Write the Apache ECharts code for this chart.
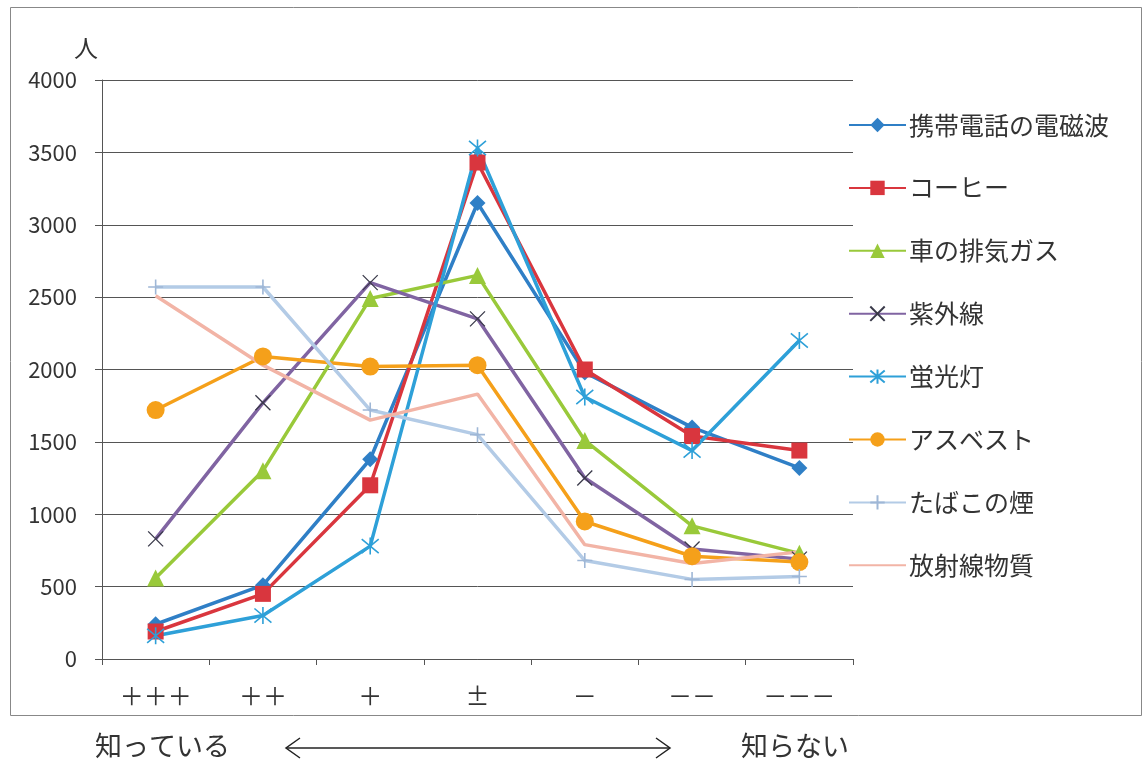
<!DOCTYPE html>
<html>
<head>
<meta charset="utf-8">
<script src="https://cdn.jsdelivr.net/npm/echarts@6/dist/echarts.min.js"></script>
<style>
  html, body { margin: 0; padding: 0; background: #ffffff; }
  #chart { width: 1143px; height: 765px; }
</style>
</head>
<body>
<div id="chart"></div>
<script>
// 認知度の段階（知っている → 知らない）
const categories = ['＋＋＋', '＋＋', '＋', '±', '－', '－－', '－－－'];

// 各項目の人数
const keitaiDenjiha = [240, 510, 1380, 3150, 1980, 1600, 1320];
const coffee        = [190, 450, 1200, 3430, 2000, 1540, 1440];
const haikiGas      = [560, 1300, 2490, 2650, 1510, 920, 730];
const shigaisen     = [830, 1770, 2600, 2350, 1250, 760, 690];
const keikoutou     = [160, 300, 780, 3530, 1810, 1440, 2200];
const asbestos      = [1720, 2090, 2020, 2030, 950, 710, 670];
const tabakoKemuri  = [2570, 2570, 1720, 1550, 680, 550, 570];
const houshasen     = [2510, 2030, 1650, 1830, 790, 660, 740];

const seriesNames = ['携帯電話の電磁波', 'コーヒー', '車の排気ガス', '紫外線', '蛍光灯', 'アスベスト', 'たばこの煙', '放射線物質'];

const FONT = '"Noto Sans CJK JP", "Noto Sans", sans-serif';

function lineSeries(name, data, color, symbol, size, extra) {
  return Object.assign({
    name: name,
    type: 'line',
    data: data,
    symbol: symbol,
    symbolSize: size,
    showAllSymbol: true,
    lineStyle: { color: color, width: 3.5 },
    itemStyle: { color: color },
    emphasis: { disabled: true },
    animation: false
  }, extra || {});
}

// 線だけで描くマーカー（×、＊、＋）
const X_PATH = 'path://M0,0L10,10M10,0L0,10';
const STAR_PATH = 'path://M0,0L10,10M10,0L0,10M5,-1L5,11';
const PLUS_PATH = 'path://M5,0L5,10M0,5L10,5';

const legendData = seriesNames.map(function (n) {
  // 放射線物質はマーカーなし
  return n === '放射線物質' ? { name: n, itemStyle: { opacity: 0 } } : { name: n };
});

const chart = echarts.init(document.getElementById('chart'), null, { renderer: 'canvas' });

chart.setOption({
  backgroundColor: '#ffffff',
  textStyle: { fontFamily: FONT },
  grid: { left: 102, right: 290, top: 80, bottom: 106, containLabel: false },
  legend: {
    orient: 'vertical',
    left: 848,
    top: 112,
    padding: 0,
    itemWidth: 57,
    itemHeight: 18,
    itemGap: 36.9,
    data: legendData,
    textStyle: { fontSize: 25, color: '#333', fontFamily: FONT, lineHeight: 26, padding: [0, 0, 0, -2] },
    selectedMode: false
  },
  xAxis: {
    type: 'category',
    data: categories,
    boundaryGap: true,
    axisLine: { lineStyle: { color: '#555', width: 1 } },
    axisTick: { show: true, length: 6, interval: 0, lineStyle: { color: '#555' } },
    axisLabel: { fontSize: 24, color: '#333', margin: 25, fontFamily: FONT, interval: 0 }
  },
  yAxis: {
    type: 'value',
    min: 0,
    max: 4000,
    interval: 500,
    name: '人',
    nameLocation: 'end',
    nameGap: 20,
    nameTextStyle: { fontSize: 24, color: '#333', align: 'right', padding: [0, 4, 0, 0], fontFamily: FONT },
    axisLine: { show: true, lineStyle: { color: '#555', width: 1 } },
    axisTick: { show: true, length: 7, lineStyle: { color: '#555' } },
    axisLabel: {
      fontSize: 22, color: '#333', margin: 25, fontFamily: FONT,
      formatter: function (v) { return String(v); }
    },
    splitLine: { lineStyle: { color: '#555', width: 1 } }
  },
  series: [
    lineSeries(seriesNames[0], keitaiDenjiha, '#2f7fc6', 'diamond', 16),
    lineSeries(seriesNames[1], coffee, '#d9363e', 'rect', 16),
    lineSeries(seriesNames[2], haikiGas, '#99c93a', 'triangle', 17),
    lineSeries(seriesNames[3], shigaisen, '#8064a2', X_PATH, 15,
      { itemStyle: { color: '#8064a2', borderColor: '#3a3a4a', borderWidth: 1.3 } }),
    lineSeries(seriesNames[4], keikoutou, '#2ea0d8', STAR_PATH, 17,
      { itemStyle: { color: '#2ea0d8', borderColor: '#2ea0d8', borderWidth: 1.6 } }),
    lineSeries(seriesNames[5], asbestos, '#f5a01a', 'circle', 18),
    lineSeries(seriesNames[6], tabakoKemuri, '#b3cbe6', PLUS_PATH, 15,
      { itemStyle: { color: '#b3cbe6', borderColor: '#9fb7d6', borderWidth: 1.6 } }),
    lineSeries(seriesNames[7], houshasen, '#f2b4a6', 'none', 0)
  ],
  graphic: [
    // 外枠
    {
      type: 'rect',
      shape: { x: 10.5, y: 7.5, width: 1131, height: 708 },
      style: { fill: 'none', stroke: '#888', lineWidth: 1 },
      silent: true
    },
    {
      type: 'text',
      left: 95, top: 732,
      style: { text: '知っている', font: '27px ' + FONT, fill: '#333' }
    },
    {
      type: 'text',
      left: 741, top: 732,
      style: { text: '知らない', font: '27px ' + FONT, fill: '#333' }
    },
    // 両矢印
    {
      type: 'line',
      shape: { x1: 286, y1: 748, x2: 670, y2: 748 },
      style: { stroke: '#222', lineWidth: 1.5 }
    },
    {
      type: 'polyline',
      shape: { points: [[300, 738], [286, 748], [300, 758]] },
      style: { stroke: '#222', lineWidth: 1.5, fill: 'none' }
    },
    {
      type: 'polyline',
      shape: { points: [[656, 738], [670, 748], [656, 758]] },
      style: { stroke: '#222', lineWidth: 1.5, fill: 'none' }
    }
  ]
});
</script>
</body>
</html>
